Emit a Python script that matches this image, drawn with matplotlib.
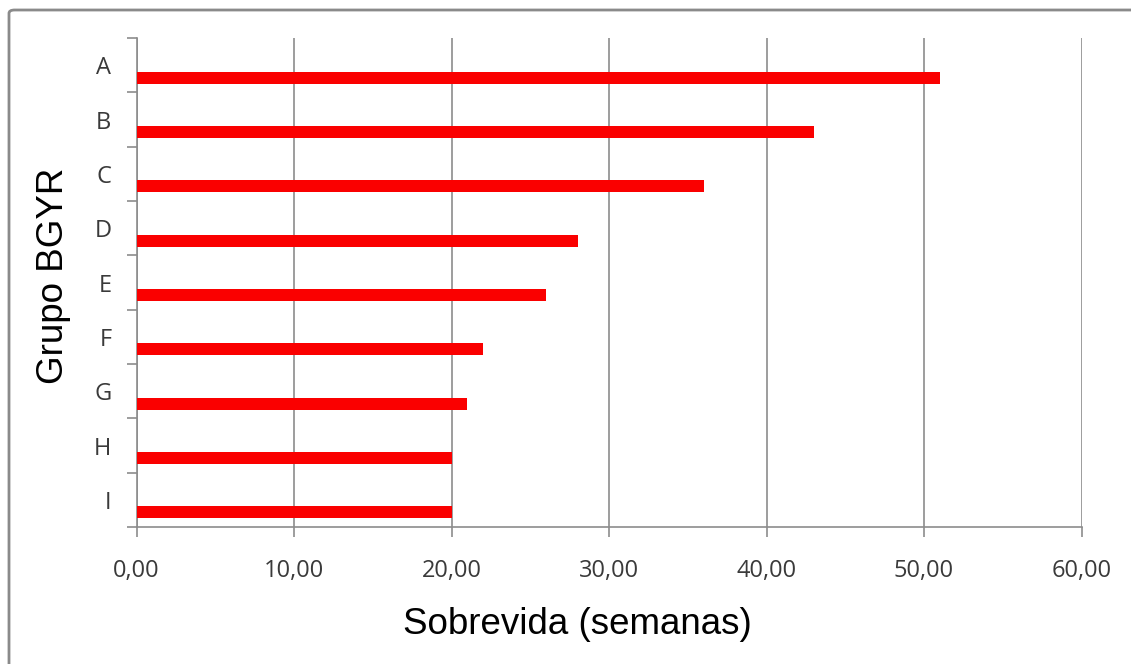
import matplotlib

matplotlib.use("Agg")
import matplotlib.pyplot as plt
import numpy as np
from matplotlib.patches import FancyBboxPatch

groups = ["A", "B", "C", "D", "E", "F", "G", "H", "I"]
survival_weeks = [51, 43, 36, 28, 26, 22, 21, 20, 20]
x_ticks = [0, 10, 20, 30, 40, 50, 60]
x_tick_labels = ["0,00", "10,00", "20,00", "30,00", "40,00", "50,00", "60,00"]

W, H = 1131, 664
fig = plt.figure(figsize=(W / 100, H / 100), dpi=100)

# plot area in pixels: x 136.5..1081.5, y 38..527
left, right, top, bottom = 136.5, 1081.5, 38, 527
ax = fig.add_axes([left / W, 1 - bottom / H, (right - left) / W, (bottom - top) / H])

grid_col = "#8c8c8c"
tick_font = dict(fontfamily="Open Sans", fontsize=17, color="#3a3a3a")
pos = np.arange(len(groups))
ax.barh(pos + 0.23, survival_weeks, height=0.225, color="#fa0000", zorder=3)

ax.set_xlim(0, 60)
ax.set_ylim(len(groups) - 0.5, -0.5)

ax.set_xticks(x_ticks)
ax.set_xticklabels(x_tick_labels, **tick_font)
ax.tick_params(axis="x", direction="out", length=7, width=1.2, color=grid_col, pad=16)

# category boundaries get tick marks, labels sit at the centres
ax.set_yticks(np.arange(len(groups) + 1) - 0.5)
ax.set_yticklabels([])
ax.set_yticks(pos, minor=True)
ax.set_yticklabels(groups, minor=True, **tick_font)
ax.tick_params(axis="y", which="major", direction="out", length=7, width=1.2, color=grid_col)
ax.tick_params(axis="y", which="minor", length=0, pad=18)

ax.grid(axis="x", color=grid_col, linewidth=1.2, zorder=0)
ax.set_axisbelow(True)
for side in ("top", "right"):
    ax.spines[side].set_visible(False)
for side in ("left", "bottom"):
    ax.spines[side].set_color(grid_col)
    ax.spines[side].set_linewidth(1.2)

fig.text(577 / W, 1 - 625 / H, "Sobrevida (semanas)", fontfamily="Liberation Sans",
         fontsize=26.5, ha="center", va="center")
fig.text(54 / W, 1 - 276 / H, "Grupo BGYR", fontfamily="Liberation Sans",
         fontsize=26.5, rotation=90, ha="center", va="center")

# outer chart border (cut off at right and bottom of the image)
border = FancyBboxPatch((9 / W, -0.05), 1.1, 1 - 10 / H + 0.05,
                        boxstyle="round,pad=0,rounding_size=0.005",
                        transform=fig.transFigure, fill=False,
                        edgecolor="#8a8a8a", linewidth=2, clip_on=False)
fig.patches.append(border)

fig.savefig("out.png", dpi=100)
